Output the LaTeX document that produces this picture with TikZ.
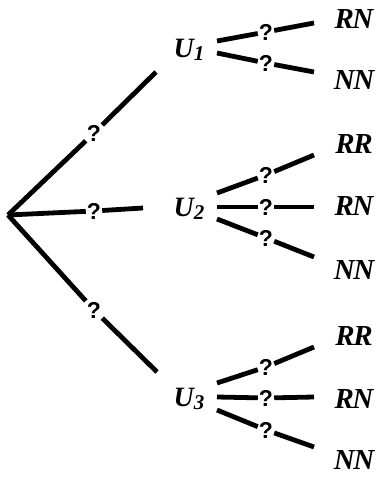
\documentclass[tikz,border=0pt]{standalone}
\usepackage{fontspec}
\setmainfont{Liberation Serif}
\newfontfamily\qfont{Liberation Sans}
\newcommand{\usub}[1]{U\kern0pt\raisebox{-0.25ex}{\fontsize{21}{21}\selectfont #1}}
\newcommand{\pr}[2]{#1\kern-1.5pt#2}
\begin{document}
\begin{tikzpicture}[x=1pt,y=-1pt,
  qm/.style={font=\qfont\bfseries\fontsize{23}{23}\selectfont, inner sep=1pt},
  lab/.style={font=\bfseries\itshape\fontsize{29}{29}\selectfont, inner sep=0pt},
  ulab/.style={font=\bfseries\itshape\fontsize{28}{28}\selectfont, inner sep=0pt},
  br/.style={line width=4.8pt, line cap=butt}]
\useasboundingbox (0,0) rectangle (378,479);
% root
\coordinate (r) at (8,215);
% first level
\node[qm] (q1) at (94,133) {?};
\coordinate (e1) at (156,72);
\node[qm] (q2) at (94,211) {?};
\coordinate (e2) at (143,208);
\node[qm] (q3) at (94,310) {?};
\coordinate (e3) at (157,372);
\draw[br] (r) -- (q1) -- (e1);
\draw[br] (r) -- (q2) -- (e2);
\draw[br] (r) -- (q3) -- (e3);
% U nodes
\node[ulab] (u1) at (189,50) {\usub{1}};
\node[ulab] (u2) at (189,209) {\usub{2}};
\node[ulab] (u3) at (189,399) {\usub{3}};
% U1 branches
\coordinate (s11) at (217,41);
\coordinate (s12) at (217,53);
\node[qm] (q11) at (266,32) {?};
\node[qm] (q12) at (266,63) {?};
\coordinate (t11) at (314,23);
\coordinate (t12) at (314,72);
\draw[br] (s11) -- (q11) -- (t11);
\draw[br] (s12) -- (q12) -- (t12);
\node[lab] (l11) at (354,19) {\pr RN};
\node[lab] (l12) at (354,80) {\pr NN};
% U2 branches
\coordinate (s21) at (217,193);
\coordinate (s22) at (217,207);
\coordinate (s23) at (217,219);
\node[qm] (q21) at (266,175) {?};
\node[qm] (q22) at (266,207) {?};
\node[qm] (q23) at (266,238) {?};
\coordinate (t21) at (314,155);
\coordinate (t22) at (314,207);
\coordinate (t23) at (314,257);
\draw[br] (s21) -- (q21) -- (t21);
\draw[br] (s22) -- (q22) -- (t22);
\draw[br] (s23) -- (q23) -- (t23);
\node[lab] (l21) at (354,144) {\pr RR};
\node[lab] (l22) at (354,206) {\pr RN};
\node[lab] (l23) at (354,270) {\pr NN};
% U3 branches
\coordinate (s31) at (217,383);
\coordinate (s32) at (217,397);
\coordinate (s33) at (217,410);
\node[qm] (q31) at (266,367) {?};
\node[qm] (q32) at (266,398) {?};
\node[qm] (q33) at (266,430) {?};
\coordinate (t31) at (314,347);
\coordinate (t32) at (314,397);
\coordinate (t33) at (314,447);
\draw[br] (s31) -- (q31) -- (t31);
\draw[br] (s32) -- (q32) -- (t32);
\draw[br] (s33) -- (q33) -- (t33);
\node[lab] (l31) at (354,336) {\pr RR};
\node[lab] (l32) at (354,399) {\pr RN};
\node[lab] (l33) at (354,460) {\pr NN};
\end{tikzpicture}
\end{document}
